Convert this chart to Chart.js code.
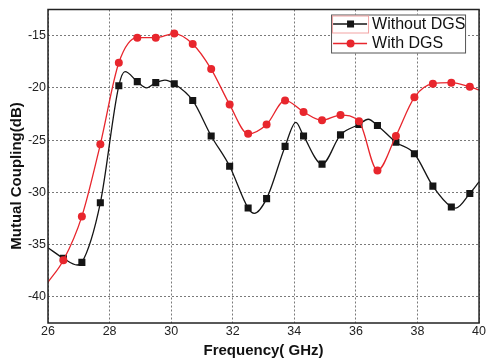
<!DOCTYPE html>
<html>
<head>
<meta charset="utf-8">
<script src="https://cdn.jsdelivr.net/npm/chart.js@4.4.1/dist/chart.umd.min.js"></script>
<style>
    html, body { margin: 0; padding: 0; background: #fff; }
</style>
</head>
<body>
<canvas id="couplingChart" width="487" height="364"></canvas>
<script>
// frequencies where the simulation markers sit (GHz)
const markerFreq = [26.5, 27.1, 27.7, 28.3, 28.9, 29.5, 30.1, 30.7, 31.3, 31.9, 32.5, 33.1,
                    33.7, 34.3, 34.9, 35.5, 36.1, 36.7, 37.3, 37.9, 38.5, 39.1, 39.7];
const withoutDgsDb = [-36.3, -36.7, -31.0, -19.8, -19.4, -19.5, -19.6, -21.2, -24.6, -27.5, -31.5, -30.6,
                      -25.6, -24.6, -27.3, -24.5, -23.5, -23.6, -25.2, -26.3, -29.4, -31.4, -30.1];
const withDgsDb = [-36.5, -32.3, -25.4, -17.6, -15.2, -15.2, -14.8, -15.8, -18.2, -21.6, -24.4, -23.5,
                   -21.2, -22.3, -23.1, -22.6, -23.2, -27.9, -24.6, -20.9, -19.6, -19.5, -19.9];

// extra points of the traces between markers (ends, peaks, dips)
const withoutCurveFreq = [26.0, 26.95, 28.5, 29.2, 29.8, 32.7, 34.05, 36.4, 39.25, 40.0];
const withoutCurveDb = [-35.3, -36.95, -18.45, -20.0, -19.25, -32.0, -23.3, -23.0, -31.5, -29.0];
const withCurveFreq = [26.0, 40.0];
const withCurveDb = [-38.6, -20.2];

const yTicks = [-40, -35, -30, -25, -20, -15];
const seriesNames = ["Without DGS", "With DGS"];
const yTitle = "Mutual Coupling(dB)";

const RED = "#e8262d";
const BLACK = "#151515";
const FONT = "'Liberation Sans', Arial, sans-serif";

// merge marker points and in-between points into one sorted trace
function buildTrace(mFreq, mDb, cFreq, cDb) {
    const pts = [];
    mFreq.forEach((f, i) => pts.push({ x: f, y: mDb[i], mark: true }));
    cFreq.forEach((f, i) => pts.push({ x: f, y: cDb[i], mark: false }));
    return pts.sort((a, b) => a.x - b.x);
}

const framePlugin = {
    id: "frameAndLegend",
    afterDatasetsDraw(chart) {
        const { ctx, chartArea: a } = chart;
        ctx.save();
        ctx.strokeStyle = "#222";
        ctx.lineWidth = 1.5;
        ctx.strokeRect(a.left, a.top, a.right - a.left, a.bottom - a.top);
        ctx.restore();
    },
    afterDraw(chart) {
        const { ctx, chartArea: a } = chart;

        // y axis title, sits a bit below the plot centre like the original
        ctx.save();
        ctx.translate(17, 176);
        ctx.rotate(-Math.PI / 2);
        ctx.fillStyle = "#111";
        ctx.font = "bold 15px " + FONT;
        ctx.textAlign = "center";
        ctx.textBaseline = "middle";
        ctx.fillText(yTitle, 0, 0);
        ctx.restore();

        const bx = a.right - 148, by = a.top + 5, bw = 134, bh = 38;
        ctx.save();
        ctx.fillStyle = "#fff";
        ctx.fillRect(bx, by, bw, bh);
        ctx.strokeStyle = "#555";
        ctx.lineWidth = 1;
        ctx.strokeRect(bx + 0.5, by + 0.5, bw, bh);

        // faint selection box round the first sample
        ctx.strokeStyle = "#f2a3a3";
        ctx.strokeRect(bx + 1.5, by + 1.5, 36, 17);

        const rows = [
            { y: by + 9.5, color: BLACK, label: seriesNames[0], style: "rect" },
            { y: by + 29, color: RED, label: seriesNames[1], style: "circle" }
        ];
        rows.forEach(r => {
            ctx.strokeStyle = r.color;
            ctx.lineWidth = 1.3;
            ctx.beginPath();
            ctx.moveTo(bx + 2, r.y);
            ctx.lineTo(bx + 36, r.y);
            ctx.stroke();
            ctx.fillStyle = r.color;
            if (r.style === "rect") {
                ctx.fillRect(bx + 19.5 - 3.5, r.y - 3.5, 7, 7);
            } else {
                ctx.beginPath();
                ctx.arc(bx + 19.5, r.y, 4, 0, Math.PI * 2);
                ctx.fill();
            }
            ctx.fillStyle = "#111";
            ctx.font = "16px " + FONT;
            ctx.textBaseline = "middle";
            ctx.textAlign = "left";
            ctx.fillText(r.label, bx + 41, r.y + 0.5);
        });
        ctx.restore();
    }
};

const ctx = document.getElementById("couplingChart").getContext("2d");

new Chart(ctx, {
    type: "line",
    data: {
        datasets: [
            {
                label: seriesNames[1],
                data: buildTrace(markerFreq, withDgsDb, withCurveFreq, withCurveDb),
                borderColor: RED,
                backgroundColor: RED,
                borderWidth: 1.3,
                pointStyle: "circle",
                pointRadius: c => (c.raw && c.raw.mark ? 4 : 0),
                pointBorderWidth: 0,
                cubicInterpolationMode: "monotone"
            },
            {
                label: seriesNames[0],
                data: buildTrace(markerFreq, withoutDgsDb, withoutCurveFreq, withoutCurveDb),
                borderColor: BLACK,
                backgroundColor: BLACK,
                borderWidth: 1.3,
                pointStyle: "rect",
                pointRadius: c => (c.raw && c.raw.mark ? 5 : 0),
                pointBorderWidth: 0,
                cubicInterpolationMode: "monotone"
            }
        ]
    },
    options: {
        responsive: false,
        devicePixelRatio: 1,
        animation: false,
        events: [],
        layout: {
            padding: { left: 0, right: 7, top: 7, bottom: 0 }
        },
        scales: {
            x: {
                type: "linear",
                min: 26,
                max: 40,
                ticks: {
                    stepSize: 2,
                    padding: 1,
                    color: "#222",
                    font: { family: FONT, size: 12.5 }
                },
                grid: { color: "#7a7a7a", lineWidth: 1, drawTicks: false },
                border: { display: false, dash: [2, 2] },
                title: {
                    display: true,
                    text: "Frequency( GHz)",
                    color: "#111",
                    font: { family: FONT, size: 15, weight: "bold" },
                    padding: { top: 4, bottom: 4 }
                },
                afterFit: scale => { scale.height = 41; }
            },
            y: {
                type: "linear",
                min: -42.5,
                max: -12.5,
                afterBuildTicks: scale => {
                    scale.ticks = yTicks.map(v => ({ value: v }));
                },
                ticks: {
                    padding: 2,
                    color: "#222",
                    font: { family: FONT, size: 12.5 }
                },
                grid: { color: "#7a7a7a", lineWidth: 1, drawTicks: false },
                border: { display: false, dash: [2, 2] },
                title: { display: false },
                afterFit: scale => { scale.width = 48; }
            }
        },
        plugins: {
            legend: { display: false },
            tooltip: { enabled: false }
        }
    },
    plugins: [framePlugin]
});
</script>
</body>
</html>
